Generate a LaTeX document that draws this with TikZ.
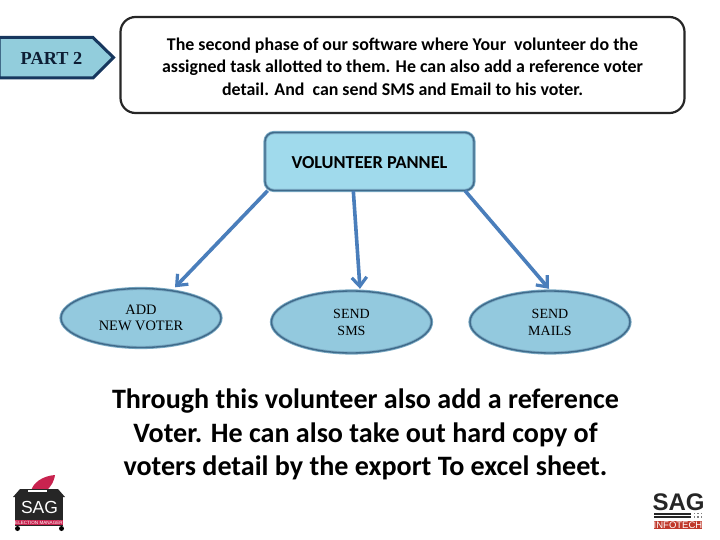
\documentclass[tikz,border=0pt]{standalone}
\usepackage{fontspec}
\setmainfont{Carlito}
\newfontfamily\timesf{Liberation Serif}
\newfontfamily\arialf{Liberation Sans}
\usetikzlibrary{shapes.geometric,arrows.meta,calc}
\definecolor{navy}{HTML}{17375E}
\definecolor{partfill}{HTML}{92CDDC}
\definecolor{panelfill}{HTML}{A0DAEC}
\definecolor{ovalfill}{HTML}{93C9DE}
\definecolor{edgedark}{HTML}{3F6A8A}
\definecolor{edgemid}{HTML}{7AAAC4}
\definecolor{arrowblue}{HTML}{4A7EBB}
\definecolor{sagred}{HTML}{C8234F}
\definecolor{infored}{HTML}{C0392B}
\tikzset{
  glow/.style={fill=#1,
    postaction={draw=edgemid,line width=3.2pt},
    postaction={draw=edgedark,line width=1.4pt}},
  oval/.style={ellipse,glow=ovalfill,inner sep=0pt,minimum width=160pt,minimum height=59pt,
    align=center,font=\timesf\fontsize{14}{17}\selectfont,text=black},
  flow/.style={draw=arrowblue,line width=3.6pt,-{Straight Barb[length=9pt,width=15pt,line width=3.2pt]}},
}
\begin{document}
\begin{tikzpicture}[x=1pt,y=-1pt]
\useasboundingbox (0,0) rectangle (720,540);
% part tag
\draw[fill=partfill,draw=navy,line width=3pt,line join=miter] (-1,37.5) -- (93,37.5) -- (113.5,57.5) -- (93,78) -- (-1,78) -- cycle;
\node[font=\timesf\bfseries\fontsize{18.3}{20}\selectfont,text=navy!55!black] (part) at (51.5,58) {PART 2};
% description
\node[draw=black!85,line width=2.2pt,fill=white,rounded corners=15pt,minimum width=564pt,minimum height=96pt,inner sep=0pt] (desc) at (402.5,65) {};
\node[align=center,inner sep=0pt,font=\bfseries\fontsize{17.9}{22.5}\selectfont] (desctext) at ($(desc.center)+(0,1.5)$)
  {The second phase of our software where Your\ \ volunteer do the\\
   assigned task allotted to them. He can also add a reference voter\\
   detail. And\ \ can send SMS and Email to his voter.};
% panel
\node[rounded corners=9pt,glow=panelfill,minimum width=209pt,minimum height=58pt,inner sep=0pt] (panel) at (369.5,161.5) {};
\node[inner sep=0pt,font=\bfseries\fontsize{18.3}{20}\selectfont] (paneltext) at ($(panel.center)+(0,1)$) {VOLUNTEER PANNEL};
% ovals
\node[oval,font=\timesf\fontsize{14.4}{16}\selectfont] (addv) at (141,318) {ADD\\NEW VOTER};
\node[oval,minimum height=62pt] (sms) at (351.5,322) {SEND\\SMS};
\node[oval,minimum height=62pt] (mails) at (550,322) {SEND\\MAILS};
% connectors
\draw[flow] (panel.196.2) -- ($(addv.north)+(34,-1)$);
\draw[flow] (panel.241.9) -- ($(sms.north)+(8.5,-2)$);
\draw[flow] (panel.343.6) -- ($(mails.north)+(-1,-2)$);
% bottom text
\node[align=center,font=\bfseries\fontsize{28.1}{33.5}\selectfont] (note) at (365.5,434.5)
  {Through this volunteer also add a reference\\Voter. He can also take out hard copy of\\voters detail by the export To excel sheet.};
% election manager logo
\fill[sagred] (31,491) .. controls (33,483) and (42,476) .. (55,475) .. controls (54,483) and (48,491) .. (43,492) -- cycle;
\fill[black!85] (20,489) -- (58,489) -- (65,497) -- (13,497) -- cycle;
\fill[black!85] (15,497) rectangle (63,526);
\fill[white] (28,490) rectangle (47,491.5);
\node[inner sep=0pt,text=white,font=\arialf\fontsize{17.5}{18}\selectfont] (sagone) at (39.5,507) {SAG};
\fill[sagred] (15,520) rectangle (63,525);
\node[inner sep=0pt,text=white,font=\arialf\fontsize{4.6}{5}\selectfont] (emtext) at (39,522.5) {ELECTION MANAGER};
\fill[black] (17.5,528.5) circle (2.5);
\fill[black] (61.5,528.5) circle (2.5);
% infotech logo
\node[inner sep=0pt,text=black!85,font=\arialf\bfseries\fontsize{24}{24}\selectfont] (sagtwo) at (678.5,502) {SAG};
\fill[black!85] (654,512.5) rectangle (691,514.5);
\fill[black!85] (654,516) rectangle (691,518);
\foreach \dx in {693.5,697,700.5}{
  \fill[black!50] (\dx,512.5) rectangle ++(1.8,1.5);
  \fill[black!50] (\dx,516) rectangle ++(1.8,1.5);
}
\fill[infored] (654,520.5) rectangle (702,529);
\node[inner sep=0pt,text=white,font=\arialf\fontsize{9.5}{10}\selectfont] (infotext) at (678,524.8) {INFOTECH};
\end{tikzpicture}
\end{document}
